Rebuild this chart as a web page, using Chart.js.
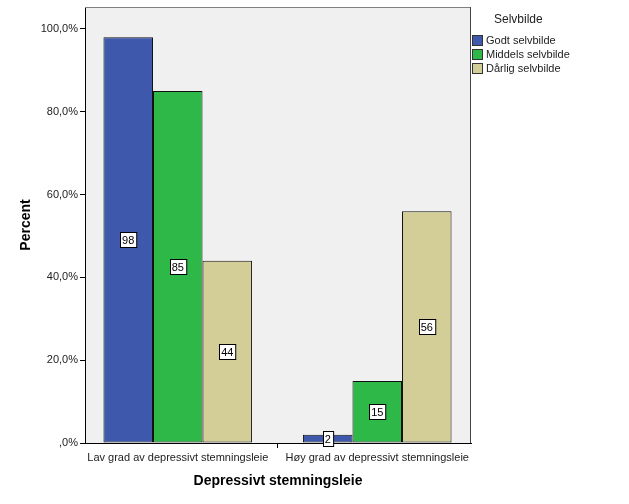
<!DOCTYPE html>
<html><head><meta charset="utf-8">
<script src="https://cdn.jsdelivr.net/npm/chart.js@4"></script>
<style>
html,body{margin:0;padding:0;background:#fff;}
#wrap{position:relative;width:629px;height:504px;}
#legend{position:absolute;left:472px;top:12px;font-family:"Liberation Sans",Arial,sans-serif;color:#222;}
#legend .t{font-size:12px;margin-left:22px;margin-bottom:7px;}
#legend .r{font-size:11px;height:14px;line-height:14px;display:flex;align-items:center;}
#legend .b{width:9px;height:9px;border:1px solid #333;margin-right:3px;}
</style></head>
<body><div id="wrap"><canvas id="c" width="629" height="504"></canvas><div id="legend"></div></div>
<script>
const categories = ["Lav grad av depressivt stemningsleie", "Høy grad av depressivt stemningsleie"];
const seriesNames = ["Godt selvbilde", "Middels selvbilde", "Dårlig selvbilde"];
const godt = [98, 2];
const middels = [85, 15];
const darlig = [44, 56];
const yTicks = [0, 20, 40, 60, 80, 100];
const colors = ["#3E58AC", "#2EB848", "#D3CE97"];

const seriesValues = [godt, middels, darlig];
const datasets = seriesNames.map((n, i) => ({
  label: n,
  data: seriesValues[i].map((v, j) => ({x: j, y: v})),
  backgroundColor: colors[i],
  borderColor: "#111",
  borderWidth: 1,
  borderSkipped: false,
  categoryPercentage: 0.745,
  barPercentage: 1.0
}));

const lg = document.getElementById('legend');
lg.innerHTML = '<div class="t">Selvbilde</div>' + seriesNames.map((n, i) =>
  '<div class="r"><span class="b" style="background:' + colors[i] + '"></span>' + n + '</div>').join('');

const plotBg = {
  id: 'plotBg',
  beforeDraw(chart) {
    const {ctx, chartArea: a} = chart;
    ctx.save();
    ctx.fillStyle = '#F0F0F0';
    ctx.fillRect(a.left, a.top, a.right - a.left, a.bottom - a.top);
    ctx.restore();
  },
  afterDatasetsDraw(chart) {
    const {ctx, chartArea: a} = chart;
    ctx.save();
    ctx.lineWidth = 1;
    ctx.strokeStyle = '#808080';
    ctx.beginPath();
    ctx.moveTo(a.left, a.top + 0.5); ctx.lineTo(a.right, a.top + 0.5);
    ctx.stroke();
    ctx.strokeStyle = '#444';
    ctx.beginPath();
    ctx.moveTo(a.right - 0.5, a.top); ctx.lineTo(a.right - 0.5, a.bottom);
    ctx.stroke();
    // value labels
    ctx.font = '11px "Liberation Sans", Arial, sans-serif';
    ctx.textAlign = 'center';
    ctx.textBaseline = 'middle';
    chart.data.datasets.forEach((ds, i) => {
      const meta = chart.getDatasetMeta(i);
      meta.data.forEach((bar, j) => {
        const v = ds.data[j].y;
        const txt = String(v);
        const cy = (bar.y + bar.base) / 2;
        const w = ctx.measureText(txt).width + 4;
        const h = 15;
        const x0 = Math.round(bar.x - w / 2) + 0.5;
        const y0 = Math.round(cy - h / 2) + 0.5;
        ctx.fillStyle = '#fff';
        ctx.fillRect(x0, y0, w, h);
        ctx.strokeStyle = '#000';
        ctx.strokeRect(x0, y0, w, h);
        ctx.fillStyle = '#000';
        ctx.fillText(txt, bar.x, cy + 1);
      });
    });
    ctx.restore();
  }
};

new Chart(document.getElementById('c'), {
  type: 'bar',
  data: {datasets},
  options: {
    responsive: false,
    animation: false,
    layout: {padding: {left: 0, right: 158, top: 7, bottom: 0}},
    plugins: {legend: {display: false}, tooltip: {enabled: false}},
    scales: {
      x: {
        type: 'linear',
        min: -0.465,
        max: 1.47,
        offset: false,
        afterFit(s) { s.height = 61; s.paddingLeft = 0; s.paddingRight = 0; },
        afterBuildTicks(s) { s.ticks = [{value: 0}, {value: 1}]; },
        grid: {drawOnChartArea: false, drawTicks: true, tickLength: 5, color: '#000'},
        border: {display: true, color: '#000'},
        ticks: {
          autoSkip: false, maxRotation: 0, padding: 3, color: '#222',
          font: {family: '"Liberation Sans", Arial, sans-serif', size: 11},
          callback: v => categories[v]
        },
        title: {
          display: true, text: 'Depressivt stemningsleie', color: '#000',
          font: {family: '"Liberation Sans", Arial, sans-serif', size: 14, weight: 'bold'},
          padding: {top: 0, bottom: 14}
        }
      },
      y: {
        min: 0, max: 105.3,
        afterFit(s) { s.width = 85; s.paddingTop = 0; s.paddingBottom = 0; },
        afterBuildTicks(s) { s.ticks = yTicks.map(v => ({value: v})); },
        grid: {drawOnChartArea: false, drawTicks: true, tickLength: 5, color: '#000'},
        border: {display: true, color: '#000'},
        ticks: {
          padding: 2, color: '#222',
          font: {family: '"Liberation Sans", Arial, sans-serif', size: 11},
          callback: v => v === 0 ? ',0%' : v.toFixed(1).replace('.', ',') + '%'
        },
        title: {
          display: true, text: 'Percent', color: '#000',
          font: {family: '"Liberation Sans", Arial, sans-serif', size: 14, weight: 'bold'},
          padding: {top: 18, bottom: 0}
        }
      }
    }
  },
  plugins: [plotBg]
});
</script></body></html>
